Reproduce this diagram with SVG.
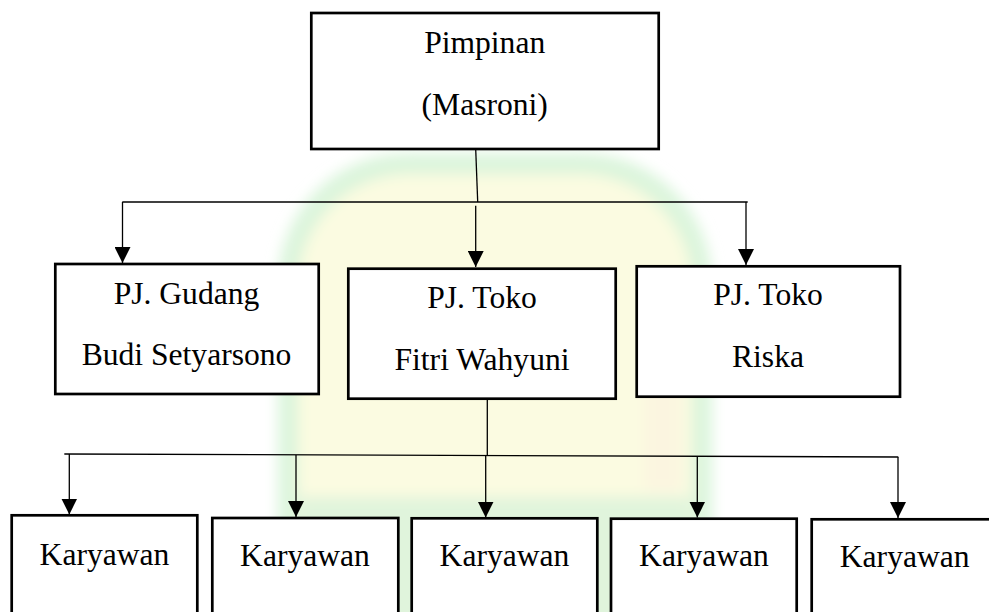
<svg xmlns="http://www.w3.org/2000/svg" width="989" height="612" viewBox="0 0 989 612">
<style>
.box{fill:#ffffff;stroke:#000000;stroke-width:2.7}
.t{font-family:"Liberation Serif","Times New Roman",serif;font-size:31.6px;fill:#000000;text-anchor:middle}
.c{stroke:#000000;stroke-width:1.3;fill:none}
.a{stroke:#000000;stroke-width:1.3;fill:none;marker-end:url(#ah)}
</style>
<defs>
<marker id="ah" markerUnits="userSpaceOnUse" markerWidth="16" markerHeight="16" refX="16" refY="8" orient="auto" viewBox="0 0 16 16">
<path d="M0,0 L16,8 L0,16 Z" fill="#000000"/>
</marker>
<filter id="blur" x="-20%" y="-20%" width="140%" height="140%">
<feGaussianBlur stdDeviation="7"/>
</filter>
</defs>
<rect width="989" height="612" fill="#ffffff"/>
<g id="watermark" filter="url(#blur)">
<path d="M278,660 V285 A130,130 0 0 1 408,153 H582 A130,130 0 0 1 712,285 V660 Z" fill="#dbf5dc"/>
<path d="M298,660 V292 A112,112 0 0 1 410,174 H580 A112,112 0 0 1 692,292 V660 Z" fill="#fbfbe1"/>
<rect x="300" y="497" width="390" height="130" fill="#e0f4dc"/>
<rect x="645" y="300" width="35" height="190" fill="#fbf5e0"/>
</g>
<g id="connectors">
<line class="c" x1="475.7" y1="149" x2="477.7" y2="202"/>
<line class="c" x1="122.3" y1="202" x2="747.7" y2="202"/>
<line class="a" x1="122.5" y1="202" x2="122.5" y2="263"/>
<line class="a" x1="475.7" y1="205.7" x2="475.7" y2="267"/>
<line class="a" x1="746" y1="202" x2="746" y2="265"/>
<line class="c" x1="487.3" y1="399" x2="487.3" y2="456"/>
<line class="c" x1="64.3" y1="454" x2="898.3" y2="457"/>
<line class="a" x1="69.3" y1="454" x2="69.3" y2="514.5"/>
<line class="a" x1="296" y1="455" x2="296" y2="517"/>
<line class="a" x1="485.7" y1="456" x2="485.7" y2="517.5"/>
<line class="a" x1="697.3" y1="456.5" x2="697.3" y2="517.5"/>
<line class="a" x1="898" y1="457" x2="898" y2="518"/>
</g>
<g id="pimpinan">
<rect class="box" x="311.3" y="13" width="347.4" height="136"/>
<text class="t" x="484.7" y="53">Pimpinan</text>
<text class="t" x="484.7" y="115">(Masroni)</text>
</g>
<g id="pj-gudang">
<rect class="box" x="55.3" y="264" width="263.4" height="130"/>
<text class="t" x="186.5" y="304">PJ. Gudang</text>
<text class="t" x="186.5" y="365">Budi Setyarsono</text>
</g>
<g id="pj-toko-fitri">
<rect class="box" x="348.3" y="268.7" width="267.4" height="130"/>
<text class="t" x="482" y="308">PJ. Toko</text>
<text class="t" x="482" y="370">Fitri Wahyuni</text>
</g>
<g id="pj-toko-riska">
<rect class="box" x="636.7" y="266.3" width="263.3" height="130.4"/>
<text class="t" x="768" y="305">PJ. Toko</text>
<text class="t" x="768" y="367">Riska</text>
</g>
<g id="karyawan-1">
<rect class="box" x="11.7" y="515.3" width="185.6" height="120"/>
<text class="t" x="104.5" y="564.5">Karyawan</text>
</g>
<g id="karyawan-2">
<rect class="box" x="212.3" y="518" width="186" height="120"/>
<text class="t" x="305" y="566">Karyawan</text>
</g>
<g id="karyawan-3">
<rect class="box" x="411.7" y="518.3" width="185.6" height="120"/>
<text class="t" x="504.5" y="566">Karyawan</text>
</g>
<g id="karyawan-4">
<rect class="box" x="611" y="518.7" width="185.7" height="120"/>
<text class="t" x="704" y="566">Karyawan</text>
</g>
<g id="karyawan-5">
<rect class="box" x="811.7" y="519.3" width="186" height="120"/>
<text class="t" x="904.7" y="566.5">Karyawan</text>
</g>
</svg>
